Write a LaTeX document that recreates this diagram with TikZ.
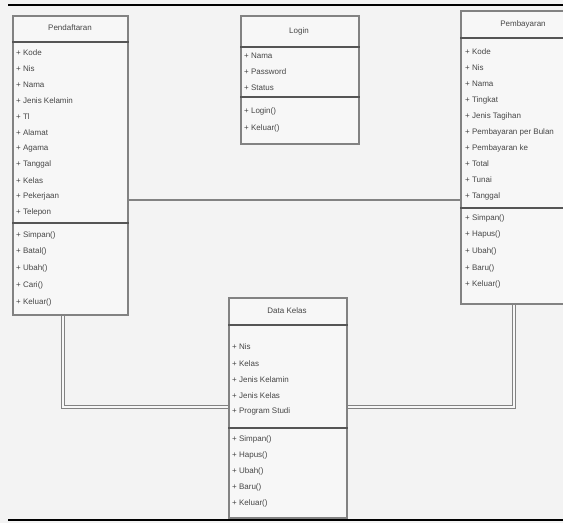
\documentclass[tikz,border=0pt]{standalone}
\usepackage{fontspec}
\setmainfont{Liberation Sans}
\usepackage{tikz}
\usetikzlibrary{
    positioning,
    calc
}
\definecolor{umlLine}{RGB}{130, 130, 130}
\definecolor{umlBar}{RGB}{85, 85, 85}
\definecolor{umlFill}{RGB}{247, 247, 247}
\definecolor{pageGray}{RGB}{243, 243, 243}
\definecolor{umlText}{RGB}{70, 70, 70}

\begin{document}
\begin{tikzpicture}[x=1pt, y=-1pt, font=\fontsize{8}{9.5}\selectfont,
        umlbox/.style={draw=umlLine, line width=1.8pt, fill=umlFill, inner sep=0pt, anchor=north west},
        bar/.style={draw=umlBar, line width=2pt},
        member/.style={anchor=west, inner sep=0pt, text=umlText},
        title/.style={inner sep=0pt, text=umlText},
        link/.style={draw=umlLine, line width=2.8pt},
        linkdbl/.style={draw=umlLine, double=umlFill, double distance=2pt, line width=1.4pt}]
        \useasboundingbox (0,0) rectangle (563,523);
        \fill[pageGray] (0,0) rectangle (563,523);
        \clip (0,0) rectangle (563,523);

        % Page rules
        \draw[line width=1.2pt] (8,5) -- (563,5);
        \draw[line width=2.6pt] (8,520) -- (563,520);

        % Boxes
        \node[umlbox, minimum width=115pt, minimum height=299pt] (daftar) at (12,15) {};
        \node[umlbox, minimum width=118pt, minimum height=128pt] (login) at (240,15) {};
        \node[umlbox, minimum width=128pt, minimum height=293pt] (bayar) at (460,10) {};
        \node[umlbox, minimum width=118pt, minimum height=220pt] (kelas) at (228,297) {};

        % Connectors
        \coordinate (hz) at (0,200);
        \coordinate (lowL) at (63,407);
        \coordinate (lowR) at (514,407);
        \draw[link] (daftar.east |- hz) -- (bayar.west |- hz);
        \draw[linkdbl] (daftar.south -| lowL) -- (lowL) -- (kelas.west |- lowL);
        \draw[linkdbl] (kelas.east |- lowR) -- (lowR) -- (bayar.south -| lowR);

        % Pendaftaran
        \node[title] (daftarT) at (70,28) {Pendaftaran};
        \draw[bar] (daftar.west |- 0,42) -- (daftar.east |- 0,42);
        \draw[bar] (daftar.west |- 0,223) -- (daftar.east |- 0,223);
        \foreach \txt [count=\i from 0] in {Kode, Nis, Nama, Jenis Kelamin, Tl, Alamat, Agama, Tanggal, Kelas, Pekerjaan, Telepon}
            \node[member] (daftarA\i) at (16, {53+15.9*\i}) {+ \txt};
        \foreach \txt [count=\i from 0] in {Simpan(), Batal(), Ubah(), Cari(), Keluar()}
            \node[member] (daftarM\i) at (16, {235+16.8*\i}) {+ \txt};

        % Login
        \node[title] (loginT) at (299,31) {Login};
        \draw[bar] (login.west |- 0,47) -- (login.east |- 0,47);
        \draw[bar] (login.west |- 0,97) -- (login.east |- 0,97);
        \foreach \txt [count=\i from 0] in {Nama, Password, Status}
            \node[member] (loginA\i) at (244, {56+16*\i}) {+ \txt};
        \foreach \txt [count=\i from 0] in {Login(), Keluar()}
            \node[member] (loginM\i) at (244, {111+17*\i}) {+ \txt};

        % Pembayaran
        \node[title] (bayarT) at (523,24) {Pembayaran};
        \draw[bar] (bayar.west |- 0,38) -- (bayar.east |- 0,38);
        \draw[bar] (bayar.west |- 0,208) -- (bayar.east |- 0,208);
        \foreach \txt [count=\i from 0] in {Kode, Nis, Nama, Tingkat, Jenis Tagihan, Pembayaran per Bulan, Pembayaran ke, Total, Tunai, Tanggal}
            \node[member] (bayarA\i) at (465, {52+16*\i}) {+ \txt};
        \foreach \txt [count=\i from 0] in {Simpan(), Hapus(), Ubah(), Baru(), Keluar()}
            \node[member] (bayarM\i) at (465, {218+16.7*\i}) {+ \txt};

        % Data Kelas
        \node[title] (kelasT) at (287,311) {Data Kelas};
        \draw[bar] (kelas.west |- 0,325) -- (kelas.east |- 0,325);
        \draw[bar] (kelas.west |- 0,428) -- (kelas.east |- 0,428);
        \foreach \txt [count=\i from 0] in {Nis, Kelas, Jenis Kelamin, Jenis Kelas, Program Studi}
            \node[member] (kelasA\i) at (232, {347+16.2*\i}) {+ \txt};
        \foreach \txt [count=\i from 0] in {Simpan(), Hapus(), Ubah(), Baru(), Keluar()}
            \node[member] (kelasM\i) at (232, {439+16*\i}) {+ \txt};
    \end{tikzpicture}
\end{document}
